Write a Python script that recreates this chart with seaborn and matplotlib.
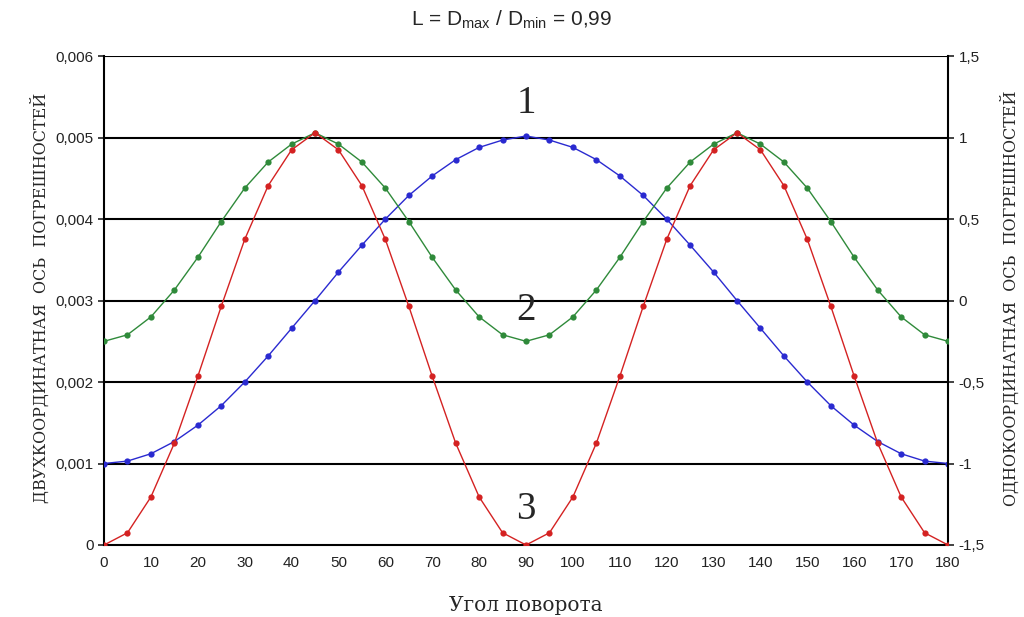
import numpy as np
import pandas as pd
import matplotlib
matplotlib.use("Agg")
import matplotlib.pyplot as plt
import seaborn as sns
from matplotlib.ticker import FuncFormatter

# угол поворота, градусы
angle = list(range(0, 185, 5))

# кривая 1 (левая ось)
curve1 = [0.001, 0.00103, 0.00112, 0.00127, 0.00147, 0.00171, 0.002, 0.00232, 0.00266, 0.003,
          0.00335, 0.00368, 0.004, 0.00429, 0.00453, 0.00473, 0.00488, 0.00497, 0.00502,
          0.00497, 0.00488, 0.00473, 0.00453, 0.00429, 0.004, 0.00368, 0.00335, 0.003,
          0.00266, 0.00232, 0.002, 0.00171, 0.00147, 0.00127, 0.00112, 0.00103, 0.001]

# кривая 2 (правая ось)
curve2 = [-0.25, -0.21, -0.10, 0.065, 0.265, 0.485, 0.69, 0.85, 0.96, 1.03,
          0.96, 0.85, 0.69, 0.485, 0.265, 0.065, -0.10, -0.21, -0.25,
          -0.21, -0.10, 0.065, 0.265, 0.485, 0.69, 0.85, 0.96, 1.03,
          0.96, 0.85, 0.69, 0.485, 0.265, 0.065, -0.10, -0.21, -0.25]

# кривая 3 (правая ось)
curve3 = [-1.5, -1.425, -1.205, -0.875, -0.465, -0.035, 0.375, 0.705, 0.925, 1.03,
          0.925, 0.705, 0.375, -0.035, -0.465, -0.875, -1.205, -1.425, -1.5,
          -1.425, -1.205, -0.875, -0.465, -0.035, 0.375, 0.705, 0.925, 1.03,
          0.925, 0.705, 0.375, -0.035, -0.465, -0.875, -1.205, -1.425, -1.5]

left_ticks = [0, 0.001, 0.002, 0.003, 0.004, 0.005, 0.006]
right_ticks = [-1.5, -1, -0.5, 0, 0.5, 1, 1.5]
x_ticks = list(range(0, 190, 10))

df = pd.DataFrame({"angle": angle, "c1": curve1, "c2": curve2, "c3": curve3})

sns.set_style("white")
plt.rcParams["font.family"] = ["Liberation Sans", "DejaVu Sans"]

fig = plt.figure(figsize=(10.24, 6.17), dpi=100)
ax = fig.add_axes([0.1016, 0.1167, 0.8242, 0.7923])
ax2 = ax.twinx()

sns.lineplot(data=df, x="angle", y="c1", ax=ax, color="#2a2ad0", marker="o",
             markersize=4.5, markeredgewidth=0, linewidth=1, zorder=5)
sns.lineplot(data=df, x="angle", y="c2", ax=ax2, color="#2f8a3a", marker="o",
             markersize=4.5, markeredgewidth=0, linewidth=1, zorder=5)
sns.lineplot(data=df, x="angle", y="c3", ax=ax2, color="#d42222", marker="o",
             markersize=4.5, markeredgewidth=0, linewidth=1, zorder=5)

ax.set_xlim(0, 180)
ax.set_ylim(0, 0.006)
ax2.set_ylim(-1.5, 1.5)
ax.set_xticks(x_ticks)
ax.set_yticks(left_ticks)
ax2.set_yticks(right_ticks)

comma = lambda v, p: ("%g" % round(v, 4)).replace(".", ",")
ax.yaxis.set_major_formatter(FuncFormatter(comma))
ax2.yaxis.set_major_formatter(FuncFormatter(comma))

for v in left_ticks[1:]:
    ax.axhline(v, color="black", linewidth=1.5, zorder=1)

for a in (ax, ax2):
    for s in a.spines.values():
        s.set_visible(False)
ax.spines["left"].set_visible(True)
ax.spines["bottom"].set_visible(True)
ax2.spines["right"].set_visible(True)
for s in (ax.spines["left"], ax.spines["bottom"], ax2.spines["right"]):
    s.set_color("black")
    s.set_linewidth(1.5)

ax.tick_params(axis="x", direction="inout", length=8, width=1.2, labelsize=11, colors="#222222", pad=4)
ax.tick_params(axis="y", direction="out", length=4, width=1.2, labelsize=11, colors="#222222", left=True)
ax2.tick_params(axis="y", direction="out", length=4, width=1.2, labelsize=11, colors="#222222", right=True)

ax.set_xlabel("Угол поворота", family=["DejaVu Serif"], fontsize=14.5, va="center")
ax.xaxis.set_label_coords(0.5, -0.123)
ax.set_ylabel("ДВУХКООРДИНАТНАЯ  ОСЬ  ПОГРЕШНОСТЕЙ", family=["DejaVu Serif"], fontsize=11.5,
              va="center", ha="center")
ax.yaxis.set_label_coords(-0.0758, 0.505)
ax2.set_ylabel("ОДНОКООРДИНАТНАЯ  ОСЬ  ПОГРЕШНОСТЕЙ", family=["DejaVu Serif"], fontsize=11.5,
               rotation=90, va="center", ha="center")
ax2.yaxis.set_label_coords(1.0735, 0.505)

fig.text(0.5, 0.968, r"L = D$_{\mathregular{max}}$ / D$_{\mathregular{min}}$ = 0,99",
         ha="center", va="center", fontsize=15)

for lab, yv in (("1", 0.00542), ("2", 0.00288), ("3", 0.00043)):
    ax.text(90, yv, lab, ha="center", va="center", fontsize=28,
            family=["Liberation Serif"], zorder=6)

fig.savefig("out.png", dpi=100)
